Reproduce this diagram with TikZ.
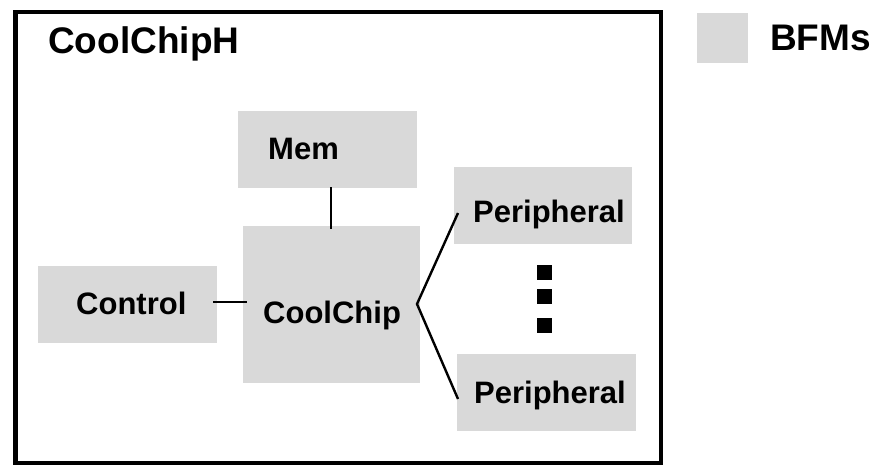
\documentclass[tikz,border=0pt]{standalone}
\usepackage{fontspec}
\setmainfont{Liberation Sans}
\definecolor{bfmgray}{RGB}{217,217,217}
\begin{document}
\begin{tikzpicture}[x=1pt,y=-1pt,
  bfm/.style={fill=bfmgray,draw=none,inner sep=0pt,minimum height=77pt},
  lbl/.style={anchor=base west,inner sep=0pt,font=\bfseries\fontsize{31}{31}\selectfont},
  biglbl/.style={anchor=base west,inner sep=0pt,font=\bfseries\fontsize{37}{37}\selectfont},
  wire/.style={line width=2.4pt,black},
  dotsq/.style={fill=black,draw=none,inner sep=0pt,minimum size=15pt}]
\useasboundingbox (0,0) rectangle (885,466);
% enclosing harness
\draw[line width=4.5pt] (15.5,12) rectangle (661,463);
\node[biglbl] (title) at (48,53) {CoolChipH};
% legend
\node[bfm,minimum width=51pt,minimum height=50pt] (legend) at (722.5,38) {};
\node[biglbl] (legendtxt) at (770,50) {BFMs};
% blocks
\node[bfm,minimum width=179pt] (mem) at (327.5,149.5) {};
\node[bfm,minimum width=177pt,minimum height=157pt] (chip) at (331.5,304.5) {};
\node[bfm,minimum width=179pt] (ctrl) at (127.5,304.5) {};
\node[bfm,minimum width=178pt] (ptop) at (543,205.5) {};
\node[bfm,minimum width=179pt] (pbot) at (546.5,392.5) {};
% labels
\node[lbl] (memtxt) at (268,159) {Mem};
\node[lbl] (chiptxt) at (263,323) {CoolChip};
\node[lbl] (ctrltxt) at (76,314) {Control};
\node[lbl] (ptoptxt) at (473,222) {Peripheral};
\node[lbl] (pbottxt) at (474,403) {Peripheral};
% ellipsis between peripherals
\node[dotsq] (d1) at (544,272.5) {};
\node[dotsq] (d2) at (544,296.5) {};
\node[dotsq] (d3) at (544,325.5) {};
% connection points
\coordinate (memend) at (331,187);
\coordinate (chiptop) at (331,229);
\coordinate (ctrlend) at (213,302);
\coordinate (chipleft) at (247,302);
\coordinate (fan) at (417,304);
\coordinate (ptopend) at (458,213);
\coordinate (pbotend) at (458,399);
% connectors
\draw[wire] (memend) -- (chiptop);
\draw[wire] (ctrlend) -- (chipleft);
\draw[wire] (ptopend) -- (fan) -- (pbotend);
\end{tikzpicture}
\end{document}
